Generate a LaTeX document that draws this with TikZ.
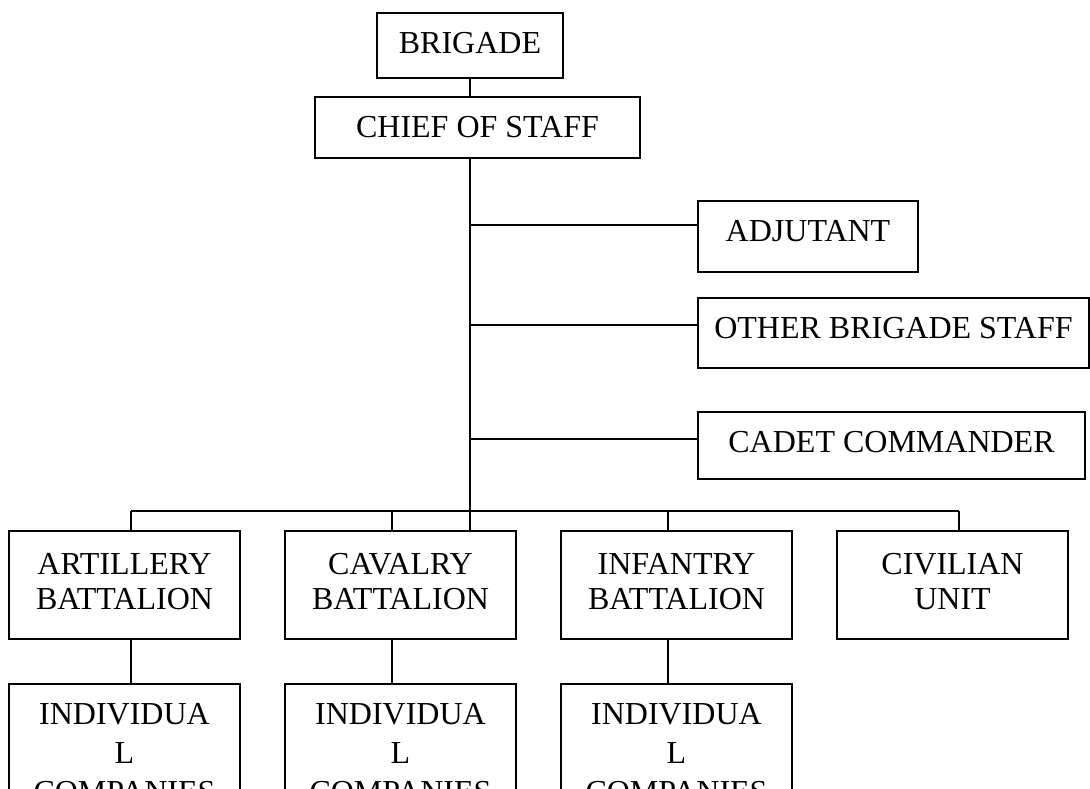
\documentclass[tikz,border=0pt]{standalone}
\usepackage{fontspec}
\setmainfont{Liberation Serif}
\usepackage{tikz}
\tikzstyle{unit}=[draw,line width=1pt,anchor=north west,inner xsep=0pt,inner ysep=0pt,text height=20pt]
\tikzstyle{batt}=[draw,line width=1pt,anchor=north west,align=center,minimum width=115.5pt,minimum height=54pt,inner sep=0pt,text depth=4pt]
\tikzstyle{coy}=[batt,minimum height=0pt,inner ysep=9.5pt,text depth=0pt]
\tikzstyle{link}=[line width=1pt]

\begin{document}
\begin{tikzpicture}[x=0.5pt,y=-0.5pt,font=\fontsize{16}{17.5}\selectfont]
	\useasboundingbox (0,0) rectangle (1090,788);
	\clip (0,0) rectangle (1090,788);
	\node[unit,minimum width=93pt,text depth=12.5pt]    (brigade)  at (376,12)  {BRIGADE};
	\node[unit,minimum width=162.5pt,text depth=10.5pt] (chief)    at (314,96)  {CHIEF OF STAFF};
	\node[unit,minimum width=110pt,text depth=15.5pt]   (adjutant) at (697,200) {ADJUTANT};
	\node[unit,minimum width=195.5pt,text depth=15pt]   (staff)    at (697,297) {OTHER BRIGADE STAFF};
	\node[unit,minimum width=193.5pt,text depth=13.5pt] (cadet)    at (697,411) {CADET COMMANDER};
	\node[batt] (art) at (8,530)   {ARTILLERY\\BATTALION};
	\node[batt] (cav) at (284,530) {CAVALRY\\BATTALION};
	\node[batt] (inf) at (560,530) {INFANTRY\\BATTALION};
	\node[batt] (civ) at (836,530) {CIVILIAN\\UNIT};
	\foreach \n/\x in {art/8,cav/284,inf/560}
		\node[coy] (\n-coy) at (\x,683) {INDIVIDUA\\[2pt]L\\[2pt]COMPANIES};
	\draw[link] (brigade.south) -- (brigade.south |- chief.north);
	\coordinate (trunk) at (brigade.south |- chief.south);
	\draw[link] (trunk) -- (trunk |- cav.north);
	\foreach \n/\y in {adjutant/225,staff/325,cadet/439}{
		\coordinate (\n-in) at (trunk |- 0,\y);
		\draw[link] (\n-in) -- (\n-in -| \n.west);
	}
	\foreach \n/\x in {art/131,cav/392,inf/668,civ/959}{
		\coordinate (\n-top) at (\x,511);
		\draw[link] (\n-top) -- (\n-top |- \n.north);
	}
	\draw[link] (art-top) -- (civ-top);
	\foreach \n in {art,cav,inf}
		\draw[link] (\n-top |- \n.south) -- (\n-top |- \n-coy.north);
\end{tikzpicture}
\end{document}
